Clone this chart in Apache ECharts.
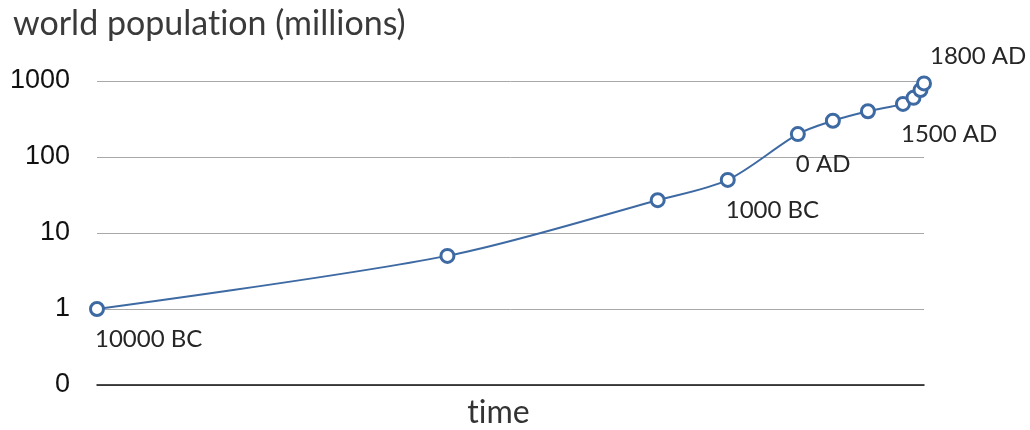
<!DOCTYPE html>
<html><head><meta charset="utf-8">
<script src="https://cdn.jsdelivr.net/npm/echarts@6/dist/echarts.min.js"></script>
<style>html,body{margin:0;padding:0;background:#fff}#c{width:1030px;height:430px}</style>
</head><body><div id="c"></div>
<script>
// years (negative = BC)
var years = [-10000, -5000, -2000, -1000, 0, 500, 1000, 1500, 1650, 1750, 1800];
// world population, millions
var population = [1, 5, 27, 50, 200, 300, 400, 500, 600, 760, 930];
// point labels (empty = no label)
var pointLabels = ['10000 BC', '', '', '1000 BC', '0 AD', '', '', '1500 AD', '', '', '1800 AD'];
var yTickLabels = {0.1: '0', 1: '1', 10: '10', 100: '100', 1000: '1000'};

var labelFont = 'Lato, "Open Sans", sans-serif';
var blue = '#3e6aa3';

var data = years.map(function (y, i) {
  var item = { value: [y, population[i]] };
  if (pointLabels[i]) {
    var top = i === years.length - 1;
    item.label = {
      show: true,
      formatter: pointLabels[i],
      position: top ? 'top' : 'bottom',
      align: 'left',
      offset: top ? [6, -2] : [-2, 5]
    };
  }
  return item;
});

var chart = echarts.init(document.getElementById('c'));
chart.setOption({
  animation: false,
  title: {
    // split into rich segments between "t" and "i" so they are not drawn as a ligature
    text: '{a|world populat}{a|ion (millions)}',
    left: 8, top: 2,
    textStyle: {
      fontFamily: labelFont, fontSize: 34, fontWeight: 'normal', color: '#3a3a3a',
      rich: { a: { fontFamily: labelFont, fontSize: 34, color: '#3a3a3a' } }
    }
  },
  grid: { left: 97, right: 106, top: 81, bottom: 45, outerBoundsMode: 'none', containLabel: false },
  xAxis: {
    type: 'value', min: -10000, max: 1800,
    name: '{a|t}{a|ime}', nameLocation: 'middle', nameGap: 12,
    nameTextStyle: {
      fontFamily: labelFont, fontSize: 32, color: '#333', padding: [0, 24, 0, 0],
      rich: { a: { fontFamily: labelFont, fontSize: 32, color: '#333' } }
    },
    axisLabel: { show: false }, axisTick: { show: false },
    splitLine: { show: false },
    axisLine: { lineStyle: { color: '#111', width: 1.5 } }
  },
  yAxis: {
    type: 'log', logBase: 10, min: 0.1, max: 1000,
    axisLine: { show: false }, axisTick: { show: false },
    axisLabel: {
      fontFamily: '"Liberation Sans", Arial, sans-serif', fontSize: 27, color: '#111', margin: 27,
      formatter: function (v) { return yTickLabels[v] !== undefined ? yTickLabels[v] : (v < 1 ? '0' : String(v)); }
    },
    splitLine: { lineStyle: { color: '#a8a8a8', width: 1 } }
  },
  series: [{
    type: 'line', data: data, smooth: 0.3,
    symbol: 'circle', symbolSize: 13,
    itemStyle: { color: '#fff', borderColor: blue, borderWidth: 3 },
    lineStyle: { color: blue, width: 2 },
    label: { fontFamily: labelFont, fontSize: 24, color: '#262626' },
    z: 3
  }]
});
</script></body></html>
